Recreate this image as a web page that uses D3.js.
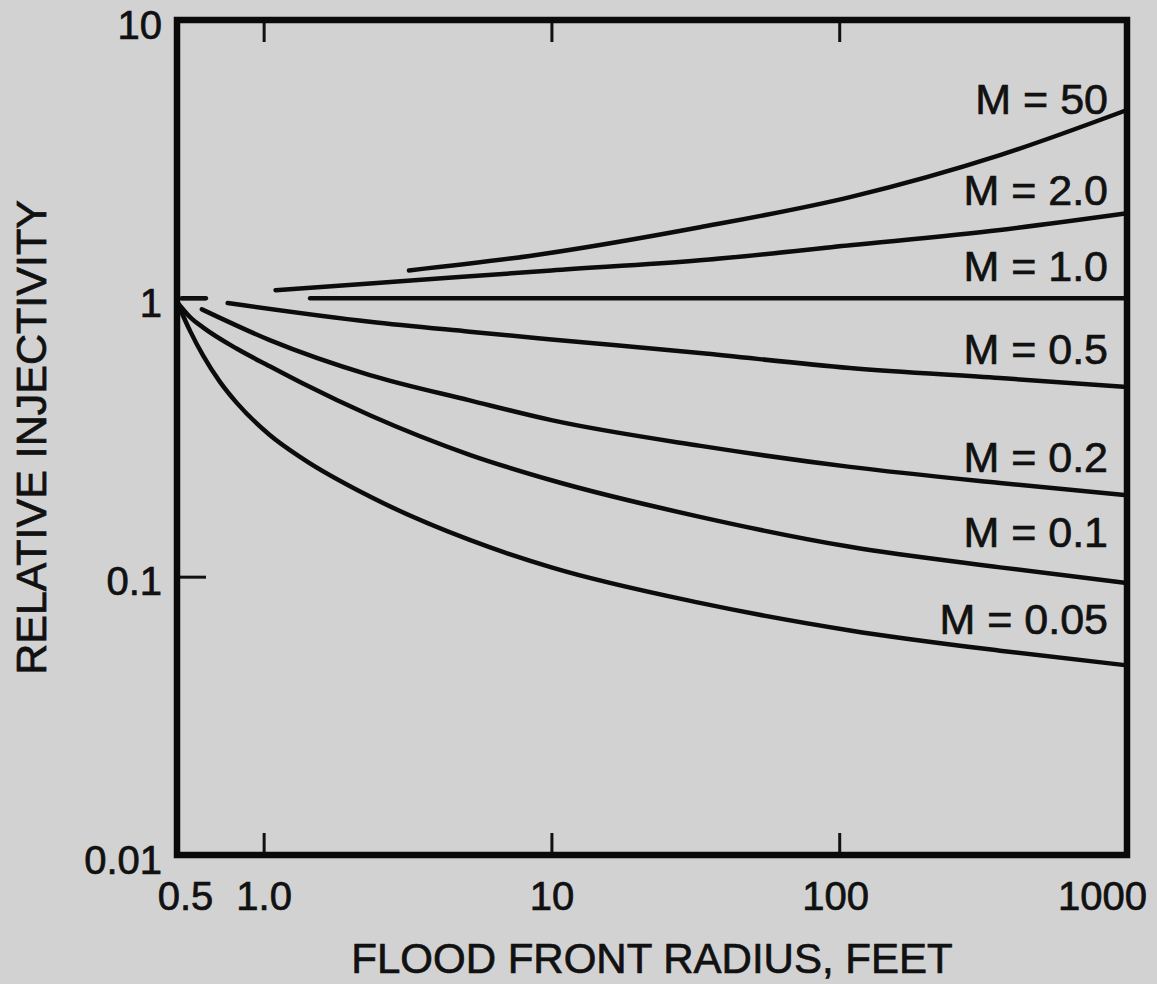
<!DOCTYPE html>
<html lang="en">
<head>
    <meta charset="UTF-8">
    <title>Relative injectivity</title>
    <script src="https://d3js.org/d3.v7.min.js"></script>
    <style>
        body { margin: 0; background: #d2d2d2; }
        text { font-family: "Liberation Sans", Arial, Helvetica, sans-serif; fill: #111; stroke: #111; stroke-width: 0.7; }
        .curve { fill: none; stroke: #0c0c0c; stroke-width: 4.5; stroke-linecap: round; }
    </style>
</head>
<body>
<script>
    const width  = 1157;
    const height = 984;

    // tick values and labels
    const xTickValues = [0.5, 1, 10, 100, 1000];
    const xTickLabels = ["0.5", "1.0", "10", "100", "1000"];
    const yTickValues = [0.01, 0.1, 1, 10];
    const yTickLabels = ["0.01", "0.1", "1", "10"];

    // curves: [flood front radius (ft), relative injectivity]
    const m50   = [[3.2, 1.26], [8.4, 1.42], [32.8, 1.80], [109, 2.31], [362, 3.27], [1000, 4.75]];
    const m2    = [[1.1, 1.07], [2.34, 1.13], [10, 1.26], [32.8, 1.37], [109, 1.55], [362, 1.76], [1000, 2.02]];
    const m1a   = [[0.52, 1.0], [0.63, 1.0]];
    const m1    = [[1.45, 1.0], [1000, 1.0]];
    const m05   = [[0.75, 0.962], [2.34, 0.824], [5.2, 0.759], [10, 0.712], [32.8, 0.636], [109, 0.562], [362, 0.517], [1000, 0.48]];
    const m02   = [[0.61, 0.913], [1.05, 0.708], [2.34, 0.53], [5.2, 0.43], [10, 0.365], [33, 0.295], [109, 0.248], [362, 0.217], [1000, 0.196]];
    const m01   = [[0.5, 0.97], [0.555, 0.856], [0.617, 0.785], [0.805, 0.66], [1.05, 0.57], [1.37, 0.494], [2.34, 0.38], [5.2, 0.274], [10, 0.222], [32.8, 0.164], [109, 0.128], [362, 0.108], [1000, 0.0948]];
    const m005  = [[0.5, 0.97], [0.555, 0.764], [0.617, 0.621], [0.705, 0.501], [0.805, 0.422], [1.05, 0.323], [1.37, 0.265], [2.34, 0.194], [5.2, 0.1355], [10, 0.108], [32.8, 0.0805], [109, 0.0641], [362, 0.0542], [1000, 0.048]];

    const curves = [m50, m2, m1a, m1, m05, m02, m01, m005];
    const curveLabels = ["M = 50", "M = 2.0", "M = 1.0", "M = 0.5", "M = 0.2", "M = 0.1", "M = 0.05"];

    // layout
    const margin = {top: 20, right: 30, bottom: 129, left: 177};
    const labelRight = 1108;
    const labelBaselines = [114, 205, 281, 364, 472, 547, 634];

    const x = d3.scaleLog().domain([0.5, 1000]).range([margin.left, width - margin.right]);
    const y = d3.scaleLog().domain([0.01, 10]).range([height - margin.bottom, margin.top]);

    const svg = d3.select("body").append("svg").attr("width", width).attr("height", height);
    svg.append("rect").attr("width", width).attr("height", height).attr("fill", "#d2d2d2");

    const line = d3.line()
                   .x(d => x(d[0]))
                   .y(d => y(d[1]))
                   .curve(d3.curveMonotoneX);

    svg.selectAll("path.curve")
            .data(curves)
            .enter()
            .append("path")
            .attr("class", "curve")
            .attr("d", d => line(d));

    // inner ticks, no labels
    const x0 = x.range()[0], x1 = x.range()[1];
    const y0 = y.range()[0], y1 = y.range()[1];

    svg.append("g")
            .attr("transform", `translate(0,${y1})`)
            .call(d3.axisTop(x).tickValues([1, 10, 100]).tickSizeInner(-22).tickSizeOuter(0).tickFormat(""));
    svg.append("g")
            .attr("transform", `translate(0,${y0})`)
            .call(d3.axisBottom(x).tickValues([1, 10, 100]).tickSizeInner(-22).tickSizeOuter(0).tickFormat(""));
    svg.append("g")
            .attr("transform", `translate(${x0},0)`)
            .call(d3.axisLeft(y).tickValues([0.1, 1]).tickSizeInner(-29).tickSizeOuter(0).tickFormat(""));

    svg.selectAll(".domain").remove();
    svg.selectAll(".tick line").attr("stroke", "#111").attr("stroke-width", 3);

    // tick labels
    const xLab = svg.append("g")
            .attr("transform", `translate(0,${y0})`)
            .call(d3.axisBottom(x).tickValues(xTickValues).tickSize(0).tickPadding(27)
                    .tickFormat((d, i) => xTickLabels[i]));
    xLab.selectAll("text")
            .attr("font-size", 40)
            .attr("dx", (d, i) => i === 0 ? 8 : (i === xTickValues.length - 1 ? -25 : (i === 3 ? -4 : 0)));

    const yLab = svg.append("g")
            .attr("transform", `translate(${x0},0)`)
            .call(d3.axisLeft(y).tickValues(yTickValues).tickSize(0).tickPadding(15)
                    .tickFormat((d, i) => yTickLabels[i]));
    yLab.selectAll("text").attr("font-size", 40).attr("dy", "0.45em");

    svg.selectAll(".domain").remove();
    svg.selectAll("g text").attr("font-family", null).attr("fill", "#111");

    // frame
    svg.append("rect")
            .attr("x", x0).attr("y", y1)
            .attr("width", x1 - x0).attr("height", y0 - y1)
            .attr("fill", "none").attr("stroke", "#0a0a0a").attr("stroke-width", 6.5);

    // curve labels
    svg.selectAll("text.mlabel")
            .data(curveLabels)
            .enter()
            .append("text")
            .attr("class", "mlabel")
            .attr("x", labelRight)
            .attr("y", (d, i) => labelBaselines[i])
            .attr("text-anchor", "end")
            .attr("font-size", 43)
            .text(d => d);

    // axis titles
    svg.append("text")
            .attr("x", (x0 + x1) / 2)
            .attr("y", 973)
            .attr("text-anchor", "middle")
            .attr("font-size", 42)
            .text("FLOOD FRONT RADIUS, FEET");

    svg.append("text")
            .attr("transform", `translate(46,${(y0 + y1) / 2})rotate(-90)`)
            .attr("text-anchor", "middle")
            .attr("font-size", 43)
            .text("RELATIVE INJECTIVITY");

</script>
</body>
</html>
